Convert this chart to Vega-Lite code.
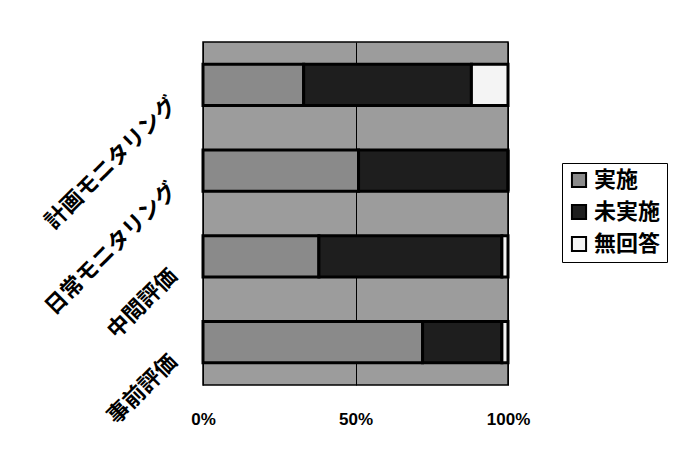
{
  "$schema": "https://vega.github.io/schema/vega-lite/v6.json",
  "width": 305,
  "height": 343,
  "autosize": {"type": "none"},
  "padding": {"left": 203, "top": 42, "right": 191, "bottom": 81},
  "background": "white",
  "config": {
    "view": {"fill": "#9c9c9c", "stroke": "black", "strokeWidth": 1.5},
    "font": "Noto Sans CJK JP"
  },
  "data": {
    "values": [
      {"項目": "計画モニタリング", "回答": "実施", "割合": 33},
      {"項目": "計画モニタリング", "回答": "未実施", "割合": 55},
      {"項目": "計画モニタリング", "回答": "無回答", "割合": 12},
      {"項目": "日常モニタリング", "回答": "実施", "割合": 51},
      {"項目": "日常モニタリング", "回答": "未実施", "割合": 49},
      {"項目": "日常モニタリング", "回答": "無回答", "割合": 0},
      {"項目": "中間評価", "回答": "実施", "割合": 38},
      {"項目": "中間評価", "回答": "未実施", "割合": 60},
      {"項目": "中間評価", "回答": "無回答", "割合": 2},
      {"項目": "事前評価", "回答": "実施", "割合": 72},
      {"項目": "事前評価", "回答": "未実施", "割合": 26},
      {"項目": "事前評価", "回答": "無回答", "割合": 2}
    ]
  },
  "mark": {"type": "bar", "stroke": "black", "strokeWidth": 3},
  "encoding": {
    "y": {
      "field": "項目",
      "type": "nominal",
      "sort": ["計画モニタリング", "日常モニタリング", "中間評価", "事前評価"],
      "scale": {"paddingInner": 0.52, "paddingOuter": 0.26},
      "axis": {
        "title": null,
        "domain": false,
        "ticks": false,
        "labelAngle": -45,
        "labelAlign": "right",
        "labelBaseline": "middle",
        "labelPadding": 30,
        "labelOffset": 16,
        "labelFontSize": 22,
        "labelFontWeight": "bold",
        "labelColor": "black",
        "labelFont": "Noto Sans CJK JP",
        "labelLimit": 300
      }
    },
    "x": {
      "aggregate": "sum",
      "field": "割合",
      "type": "quantitative",
      "stack": "normalize",
      "scale": {"domain": [0, 1]},
      "axis": {
        "title": null,
        "values": [0, 0.5, 1],
        "format": "%",
        "domain": false,
        "ticks": false,
        "grid": true,
        "gridColor": "black",
        "gridWidth": 1,
        "gridOpacity": 1,
        "labelFlush": false,
        "labelPadding": 26,
        "labelFontSize": 17,
        "labelFontWeight": "bold",
        "labelColor": "black",
        "labelFont": "Liberation Sans"
      }
    },
    "color": {
      "field": "回答",
      "type": "nominal",
      "sort": ["実施", "未実施", "無回答"],
      "scale": {
        "domain": ["実施", "未実施", "無回答"],
        "range": ["#8a8a8a", "#1e1e1e", "#f4f4f4"]
      },
      "legend": {
        "title": null,
        "orient": "none",
        "legendX": 359,
        "legendY": 121,
        "symbolType": "square",
        "symbolSize": 200,
        "symbolStrokeColor": "black",
        "symbolStrokeWidth": 2,
        "labelFontSize": 22,
        "labelFontWeight": "bold",
        "labelFont": "Noto Sans CJK JP",
        "labelColor": "black",
        "labelOffset": 4,
        "rowPadding": 8,
        "strokeColor": "black",
        "padding": 6,
        "cornerRadius": 0
      }
    },
    "order": {"field": "回答", "sort": "ascending"}
  }
}
